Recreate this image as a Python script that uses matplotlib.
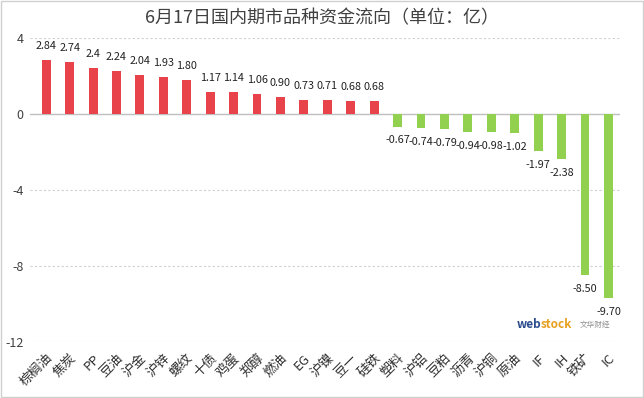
import matplotlib
matplotlib.use("Agg")
import matplotlib.pyplot as plt
from matplotlib.patches import Rectangle

plt.rcParams['font.family'] = ['Noto Sans CJK SC', 'DejaVu Sans']

# data
categories = ['棕榈油', '焦炭', 'PP', '豆油', '沪金', '沪锌', '螺纹', '十债', '鸡蛋', '郑醇',
              '燃油', 'EG', '沪镍', '豆一', '硅铁', '塑料', '沪铝', '豆粕', '沥青', '沪铜',
              '原油', 'IF', 'IH', '铁矿', 'IC']
values = [2.84, 2.74, 2.4, 2.24, 2.04, 1.93, 1.80, 1.17, 1.14, 1.06,
          0.90, 0.73, 0.71, 0.68, 0.68, -0.67, -0.74, -0.79, -0.94, -0.98,
          -1.02, -1.97, -2.38, -8.50, -9.70]
value_labels = ['2.84', '2.74', '2.4', '2.24', '2.04', '1.93', '1.80', '1.17', '1.14', '1.06',
                '0.90', '0.73', '0.71', '0.68', '0.68', '-0.67', '-0.74', '-0.79', '-0.94', '-0.98',
                '-1.02', '-1.97', '-2.38', '-8.50', '-9.70']
y_ticks = [4, 0, -4, -8, -12]

red = '#E8424A'
green = '#92D050'

fig = plt.figure(figsize=(6.44, 3.98), dpi=100)
ax = fig.add_axes([0.047, 0.141, 0.916, 0.764])

x = list(range(len(categories)))
colors = [red if v >= 0 else green for v in values]
ax.bar(x, values, width=0.38, color=colors, zorder=3)

# value labels above / below each bar
for xi, v, lab in zip(x, values, value_labels):
    off = 10 if v >= 0 else -10
    ax.annotate(lab, (xi, v), xytext=(0, off), textcoords='offset points',
                ha='center', va='center', fontsize=7.8, color='#222222')

ax.set_xlim(-0.68, 24.5)
ax.set_ylim(-12, 4)
ax.set_yticks(y_ticks)
ax.set_yticklabels([str(t) for t in y_ticks], fontsize=9, color='#404040')
ax.tick_params(axis='y', length=0, pad=5)

for t in y_ticks:
    if t != 0:
        ax.axhline(t, color='#D0D0D0', lw=0.8, ls=(0, (2, 2)), zorder=1)
ax.axhline(0, color='#BFBFBF', lw=1.0, zorder=2)

ax.set_xticks(x)
ax.set_xticklabels(categories, rotation=45, ha='right', rotation_mode='anchor',
                   fontsize=9.5, color='#303030')
ax.tick_params(axis='x', length=0, pad=7)

for s in ax.spines.values():
    s.set_visible(False)

fig.text(0.5, 0.953, '6月17日国内期市品种资金流向（单位：亿）', ha='center', va='center',
         fontsize=13, color='#404040')

# watermark
fig.text(0.803, 0.185, 'web', fontsize=8.5, color='#2B4C8C', fontweight='bold', ha='left', va='center')
fig.text(0.839, 0.185, 'stock', fontsize=8.5, color='#E8A020', fontweight='bold', ha='left', va='center')
fig.text(0.900, 0.183, '文华财经', fontsize=5.5, color='#909090', ha='left', va='center')

# outer border
fig.patches.append(Rectangle((0.002, 0.003), 0.996, 0.994, transform=fig.transFigure,
                             fill=False, ec='#D0D0D0', lw=1))

fig.savefig('out.png', dpi=100)
